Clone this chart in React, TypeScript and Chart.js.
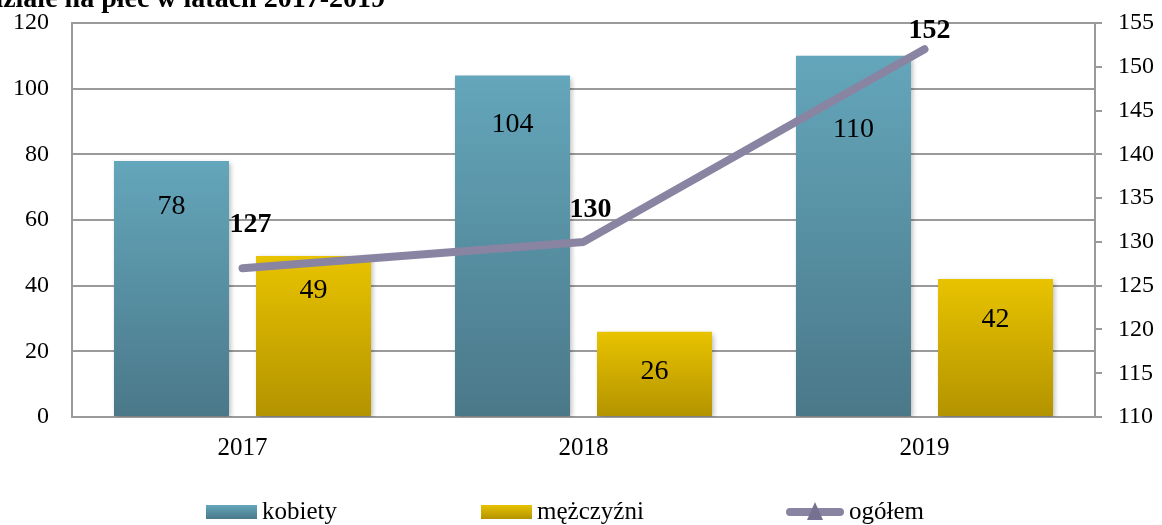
import React, { useEffect, useRef } from "react";
import { Chart, registerables } from "chart.js";

Chart.register(...registerables);

// ---- data ----
const categories = ["2017", "2018", "2019"];
const kobiety = [78, 104, 110];
const mezczyzni = [49, 26, 42];
const ogolem = [127, 130, 152];
const seriesNames = ["kobiety", "mężczyźni", "ogółem"];
const leftAxis = [0, 120, 20]; // min, max, step
const rightAxis = [110, 155, 5]; // min, max, step
const titleText = "Bezrobotni w podziale na płeć w latach 2017-2019";

// ---- styles ----
const SERIF = '"Liberation Serif", "Times New Roman", Times, serif';
const GRID = "#9a9a9a";
const KOB_TOP = "#64a6bb";
const KOB_BOT = "#4a7889";
const MEZ_TOP = "#e8c300";
const MEZ_BOT = "#b39300";
const LINE = "#8a84a3";
const barLabelOffsets = [
  [46, 49, 74],
  [35, 40, 41],
];
const lineLabelOffsets = [
  [8, -43],
  [7, -32],
  [5, -19],
];
const legendStarts = [206, 481, 786];

function barGradient(top: string, bot: string) {
  return (c: any) => {
    const chart = c.chart;
    if (!chart.chartArea || c.type !== "data") return top;
    const ys = chart.scales.y;
    const y0 = ys.getPixelForValue(c.raw);
    const y1 = ys.getPixelForValue(0);
    const g = chart.ctx.createLinearGradient(0, y0, 0, y1);
    g.addColorStop(0, top);
    g.addColorStop(1, bot);
    return g;
  };
}

const shadowPlugin = {
  id: "barShadow",
  beforeDatasetDraw(chart: any, args: any) {
    if (args.meta.type === "bar") {
      const ctx = chart.ctx;
      ctx.save();
      ctx.shadowColor = "rgba(0,0,0,0.28)";
      ctx.shadowBlur = 5;
      ctx.shadowOffsetX = 2;
      ctx.shadowOffsetY = 2;
    }
  },
  afterDatasetDraw(chart: any, args: any) {
    if (args.meta.type === "bar") chart.ctx.restore();
  },
};

const labelPlugin = {
  id: "valueLabels",
  afterDatasetsDraw(chart: any) {
    const ctx = chart.ctx;
    ctx.save();
    ctx.textAlign = "center";
    ctx.textBaseline = "middle";
    ctx.fillStyle = "#000";
    ctx.font = `28px ${SERIF}`;
    [0, 1].forEach((di) => {
      const meta = chart.getDatasetMeta(di);
      meta.data.forEach((el: any, i: number) => {
        ctx.fillText(String(chart.data.datasets[di].data[i]), el.x, el.y + barLabelOffsets[di][i]);
      });
    });
    ctx.font = `bold 28px ${SERIF}`;
    const lm = chart.getDatasetMeta(2);
    lm.data.forEach((el: any, i: number) => {
      ctx.fillText(String(chart.data.datasets[2].data[i]), el.x + lineLabelOffsets[i][0], el.y + lineLabelOffsets[i][1]);
    });
    ctx.restore();
  },
};

const legendPlugin = {
  id: "customLegend",
  afterDraw(chart: any) {
    const ctx = chart.ctx;
    ctx.save();
    ctx.font = `25px ${SERIF}`;
    ctx.textBaseline = "middle";
    ctx.textAlign = "left";
    const cy = 512;
    const boxW = 51;
    const boxH = 14;
    const gapText = 5;
    seriesNames.forEach((name, i) => {
      let x = legendStarts[i];
      if (i < 2) {
        const g = ctx.createLinearGradient(0, cy - boxH / 2, 0, cy + boxH / 2);
        g.addColorStop(0, i === 0 ? KOB_TOP : MEZ_TOP);
        g.addColorStop(1, i === 0 ? KOB_BOT : MEZ_BOT);
        ctx.fillStyle = g;
        ctx.fillRect(x, cy - boxH / 2, boxW, boxH);
        x += boxW;
      } else {
        const lw = 58;
        ctx.strokeStyle = LINE;
        ctx.lineWidth = 8;
        ctx.lineCap = "round";
        ctx.beginPath();
        ctx.moveTo(x + 4, cy);
        ctx.lineTo(x + lw - 4, cy);
        ctx.stroke();
        ctx.fillStyle = "#777191";
        const mx = x + lw / 2;
        ctx.beginPath();
        ctx.moveTo(mx, cy - 10);
        ctx.lineTo(mx + 8, cy + 8);
        ctx.lineTo(mx - 8, cy + 8);
        ctx.closePath();
        ctx.fill();
        x += lw;
      }
      x += gapText;
      ctx.fillStyle = "#000";
      ctx.fillText(name, x, cy);
    });
    ctx.restore();
  },
};

export default function App() {
  const ref = useRef<HTMLCanvasElement | null>(null);

  useEffect(() => {
    document.body.style.margin = "0";
    const canvas = ref.current;
    if (!canvas) return;
    const chart = new Chart(canvas, {
      type: "bar",
      data: {
        labels: categories,
        datasets: [
          {
            label: seriesNames[0],
            data: kobiety,
            backgroundColor: barGradient(KOB_TOP, KOB_BOT),
            yAxisID: "y",
            order: 1,
            categoryPercentage: 0.833,
            barPercentage: 0.81,
          } as any,
          {
            label: seriesNames[1],
            data: mezczyzni,
            backgroundColor: barGradient(MEZ_TOP, MEZ_BOT),
            yAxisID: "y",
            order: 1,
            categoryPercentage: 0.833,
            barPercentage: 0.81,
          } as any,
          {
            type: "line",
            label: seriesNames[2],
            data: ogolem,
            borderColor: LINE,
            backgroundColor: LINE,
            borderWidth: 8,
            borderCapStyle: "round",
            borderJoinStyle: "bevel",
            pointRadius: 0,
            pointHoverRadius: 0,
            tension: 0,
            yAxisID: "y1",
            order: 0,
          } as any,
        ],
      },
      options: {
        animation: false,
        responsive: false,
        devicePixelRatio: 1,
        layout: { padding: { top: 23, left: 0, right: 0, bottom: 0 } },
        plugins: {
          legend: { display: false },
          tooltip: { enabled: false },
          title: { display: false },
        },
        scales: {
          x: {
            grid: { display: false, drawTicks: false },
            border: { display: true, color: GRID, width: 2 },
            ticks: { color: "#000", font: { family: SERIF, size: 25 }, padding: 16 },
            afterFit: (s: any) => {
              s.height = 108;
              s.paddingLeft = 0;
              s.paddingRight = 0;
            },
          },
          y: {
            position: "left",
            min: leftAxis[0],
            max: leftAxis[1],
            ticks: { stepSize: leftAxis[2], color: "#000", font: { family: SERIF, size: 24 }, padding: 23 },
            grid: { color: GRID, lineWidth: 2, drawTicks: false },
            border: { display: true, color: GRID, width: 2 },
            afterFit: (s: any) => {
              s.width = 72;
              s.paddingTop = 0;
              s.paddingBottom = 0;
            },
          },
          y1: {
            position: "right",
            min: rightAxis[0],
            max: rightAxis[1],
            ticks: { stepSize: rightAxis[2], color: "#000", font: { family: SERIF, size: 24 }, padding: 16 },
            grid: { drawOnChartArea: false, drawTicks: true, tickLength: 7, color: GRID, lineWidth: 2 },
            border: { display: true, color: GRID, width: 2 },
            afterFit: (s: any) => {
              s.width = 67;
              s.paddingTop = 0;
              s.paddingBottom = 0;
            },
          },
        },
      } as any,
      plugins: [shadowPlugin, labelPlugin, legendPlugin],
    });
    return () => chart.destroy();
  }, []);

  return (
    <div style={{ position: "relative", width: 1162, height: 525, overflow: "hidden", background: "#fff" }}>
      <canvas ref={ref} width={1162} height={525} style={{ display: "block", width: 1162, height: 525 }} />
      <div
        style={{
          position: "absolute",
          right: 1162 - 385,
          top: -16,
          whiteSpace: "nowrap",
          font: `bold 28px ${SERIF}`,
          lineHeight: "28px",
          color: "#000",
        }}
      >
        {titleText}
      </div>
    </div>
  );
}
